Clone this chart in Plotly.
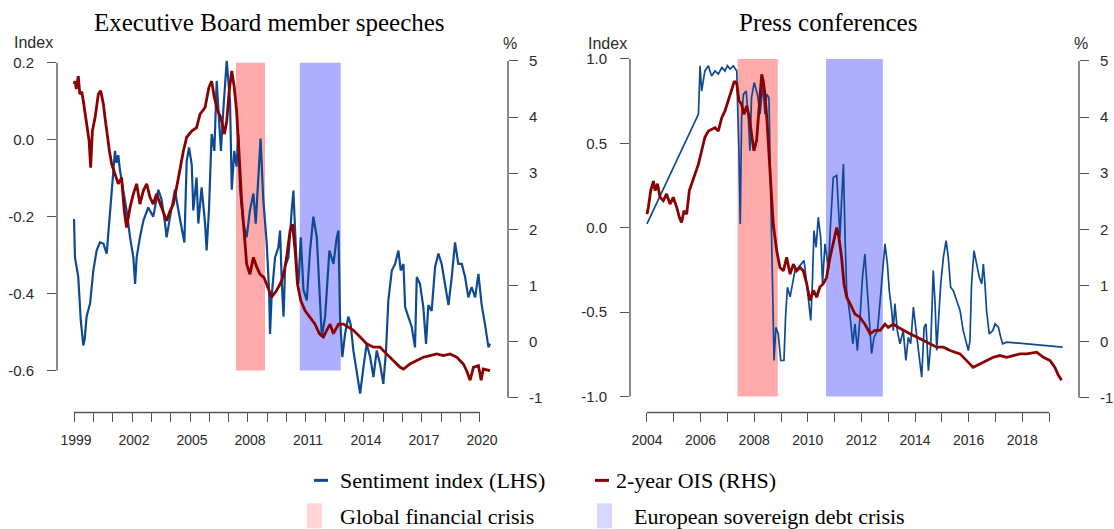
import plotly.graph_objects as go

# ---------------- data ----------------
# Left panel: Executive Board member speeches
LB_YEARS = [1999.00, 1999.05, 1999.22, 1999.35, 1999.48, 1999.55, 1999.65, 1999.83, 2000.00, 2000.17,
            2000.34, 2000.52, 2000.69, 2000.78, 2000.95, 2001.12, 2001.20, 2001.29, 2001.38, 2001.55,
            2001.72, 2001.90, 2002.07, 2002.16, 2002.24, 2002.41, 2002.59, 2002.84, 2003.10, 2003.36,
            2003.53, 2003.71, 2003.79, 2003.97, 2004.22, 2004.40, 2004.57, 2004.71, 2004.83, 2004.95,
            2005.09, 2005.17, 2005.34, 2005.43, 2005.60, 2005.78, 2005.86, 2005.98, 2006.12, 2006.26,
            2006.38, 2006.50, 2006.60, 2006.72, 2006.90, 2007.07, 2007.16, 2007.29, 2007.41, 2007.50,
            2007.59, 2007.76, 2007.93, 2008.10, 2008.28, 2008.40, 2008.53, 2008.65, 2008.79, 2008.97,
            2009.09, 2009.14, 2009.22, 2009.40, 2009.57, 2009.66, 2009.75, 2009.84, 2009.92, 2010.09,
            2010.26, 2010.35, 2010.44, 2010.52, 2010.61, 2010.73, 2010.87, 2011.04, 2011.21, 2011.38,
            2011.56, 2011.69, 2011.82, 2011.99, 2012.21, 2012.42, 2012.59, 2012.68, 2012.76, 2012.88,
            2013.02, 2013.19, 2013.31, 2013.45, 2013.63, 2013.80, 2013.97, 2014.14, 2014.32, 2014.49,
            2014.66, 2014.83, 2015.00, 2015.14, 2015.26, 2015.44, 2015.61, 2015.78, 2015.90, 2016.04,
            2016.13, 2016.30, 2016.47, 2016.64, 2016.73, 2016.90, 2017.07, 2017.21, 2017.33, 2017.50,
            2017.68, 2017.85, 2018.02, 2018.19, 2018.37, 2018.54, 2018.71, 2018.88, 2019.06, 2019.23,
            2019.40, 2019.57, 2019.75, 2019.92, 2020.09, 2020.26, 2020.44, 2020.52]
LB_SENT = [-0.206, -0.306, -0.357, -0.470, -0.535, -0.520, -0.460, -0.426, -0.340, -0.288,
           -0.267, -0.270, -0.296, -0.236, -0.132, -0.029, -0.060, -0.040, -0.080, -0.132,
           -0.184, -0.254, -0.306, -0.375, -0.306, -0.254, -0.210, -0.176, -0.200, -0.130,
           -0.155, -0.218, -0.254, -0.200, -0.130, -0.184, -0.236, -0.267, -0.055, -0.020,
           -0.065, -0.184, -0.098, -0.218, -0.124, -0.218, -0.288, -0.184, 0.015, -0.029,
           0.153, 0.040, -0.029, 0.075, 0.205, 0.100, -0.130, -0.029, -0.070, 0.015,
           -0.130, -0.218, -0.254, -0.184, -0.140, -0.218, -0.090, 0.003, -0.155, -0.270,
           -0.392, -0.505, -0.410, -0.306, -0.280, -0.236, -0.375, -0.460, -0.330, -0.306,
           -0.184, -0.132, -0.240, -0.330, -0.375, -0.254, -0.390, -0.418, -0.288, -0.200,
           -0.254, -0.375, -0.513, -0.460, -0.288, -0.323, -0.254, -0.236, -0.460, -0.565,
           -0.505, -0.460, -0.480, -0.548, -0.600, -0.660, -0.592, -0.531, -0.565, -0.617,
           -0.548, -0.583, -0.635, -0.548, -0.418, -0.340, -0.323, -0.288, -0.340, -0.323,
           -0.436, -0.460, -0.487, -0.540, -0.357, -0.375, -0.436, -0.531, -0.430, -0.445,
           -0.330, -0.296, -0.323, -0.375, -0.430, -0.357, -0.267, -0.323, -0.323, -0.357,
           -0.410, -0.383, -0.410, -0.349, -0.430, -0.480, -0.540, -0.530]

LR_YEARS = [1999.00, 1999.05, 1999.12, 1999.22, 1999.30, 1999.40, 1999.48, 1999.56, 1999.65, 1999.78,
            1999.86, 1999.95, 2000.09, 2000.18, 2000.26, 2000.38, 2000.52, 2000.60, 2000.69, 2000.83,
            2000.95, 2001.12, 2001.29, 2001.46, 2001.60, 2001.72, 2001.90, 2002.07, 2002.24, 2002.41,
            2002.59, 2002.76, 2002.93, 2003.10, 2003.27, 2003.53, 2003.79, 2003.97, 2004.14, 2004.40,
            2004.66, 2004.83, 2005.09, 2005.34, 2005.52, 2005.78, 2005.98, 2006.12, 2006.26, 2006.43,
            2006.60, 2006.78, 2006.90, 2007.03, 2007.16, 2007.29, 2007.41, 2007.53, 2007.67, 2007.81,
            2007.93, 2008.10, 2008.28, 2008.45, 2008.62, 2008.83, 2009.00, 2009.22, 2009.48, 2009.74,
            2009.90, 2010.00, 2010.18, 2010.30, 2010.44, 2010.56, 2010.73, 2010.95, 2011.21, 2011.47,
            2011.69, 2011.90, 2012.07, 2012.25, 2012.42, 2012.68, 2012.94, 2013.19, 2013.45, 2013.80,
            2014.14, 2014.49, 2014.83, 2015.17, 2015.52, 2015.87, 2016.04, 2016.38, 2016.73, 2017.07,
            2017.42, 2017.76, 2018.11, 2018.45, 2018.80, 2019.14, 2019.31, 2019.49, 2019.66, 2019.92,
            2020.06, 2020.17, 2020.52]
LR_OIS = [4.59, 4.64, 4.50, 4.73, 4.41, 4.45, 4.29, 4.10, 3.87, 3.58,
          3.10, 3.75, 3.99, 4.20, 4.41, 4.47, 4.23, 4.00, 3.75, 3.40,
          3.16, 2.98, 2.81, 2.92, 2.33, 2.03, 2.39, 2.63, 2.81, 2.45,
          2.69, 2.81, 2.57, 2.45, 2.63, 2.39, 2.15, 2.33, 2.45, 2.92,
          3.40, 3.64, 3.75, 3.81, 4.05, 4.17, 4.53, 4.64, 4.35, 4.11,
          3.99, 3.70, 3.93, 4.47, 4.82, 4.53, 4.11, 3.40, 2.51, 1.92,
          1.38, 1.20, 1.50, 1.33, 1.20, 1.14, 0.97, 0.79, 0.91, 1.08,
          1.30, 1.50, 1.98, 2.09, 1.62, 1.03, 0.73, 0.55, 0.43, 0.31,
          0.14, 0.08, 0.20, 0.31, 0.14, 0.31, 0.31, 0.25, 0.20, 0.08,
          -0.04, -0.10, -0.10, -0.22, -0.34, -0.46, -0.49, -0.40, -0.34, -0.28,
          -0.25, -0.22, -0.25, -0.22, -0.28, -0.40, -0.52, -0.69, -0.46, -0.43,
          -0.69, -0.49, -0.52]

# Right panel: Press conferences
RB_YEARS = [2004.00, 2005.92, 2005.98, 2006.04, 2006.10, 2006.16, 2006.29, 2006.41, 2006.54, 2006.66,
            2006.79, 2006.91, 2007.00, 2007.10, 2007.22, 2007.35, 2007.38, 2007.43, 2007.48, 2007.53,
            2007.60, 2007.70, 2007.78, 2007.84, 2007.90, 2008.00, 2008.12, 2008.22, 2008.32, 2008.40,
            2008.47, 2008.55, 2008.61, 2008.68, 2008.74, 2008.81, 2008.90, 2008.99, 2009.11, 2009.17,
            2009.24, 2009.34, 2009.44, 2009.52, 2009.65, 2009.77, 2009.86, 2009.96, 2010.02, 2010.11,
            2010.17, 2010.23, 2010.31, 2010.39, 2010.48, 2010.55, 2010.64, 2010.77, 2010.85, 2010.95,
            2011.08, 2011.14, 2011.20, 2011.26, 2011.33, 2011.39, 2011.45, 2011.58, 2011.68, 2011.76,
            2011.85, 2011.95, 2012.04, 2012.13, 2012.20, 2012.30, 2012.38, 2012.47, 2012.60, 2012.70,
            2012.80, 2012.88, 2012.97, 2013.04, 2013.13, 2013.19, 2013.25, 2013.34, 2013.44, 2013.56,
            2013.66, 2013.75, 2013.84, 2013.94, 2014.04, 2014.12, 2014.25, 2014.34, 2014.41, 2014.50,
            2014.59, 2014.68, 2014.75, 2014.81, 2014.87, 2014.96, 2015.06, 2015.16, 2015.24, 2015.33,
            2015.43, 2015.55, 2015.68, 2015.80, 2015.93, 2015.99, 2016.05, 2016.11, 2016.20, 2016.30,
            2016.40, 2016.49, 2016.55, 2016.61, 2016.67, 2016.77, 2016.90, 2016.99, 2017.11, 2017.20,
            2017.27, 2017.42, 2018.04, 2018.66, 2019.51]
RB_SENT = [0.022, 0.673, 0.959, 0.810, 0.870, 0.929, 0.959, 0.899, 0.929, 0.910,
           0.949, 0.929, 0.960, 0.940, 0.959, 0.929, 0.732, 0.456, 0.022, 0.653,
           0.791, 0.810, 0.653, 0.456, 0.771, 0.860, 0.791, 0.673, 0.850, 0.673,
           0.791, 0.771, 0.258, -0.333, -0.787, -0.590, -0.630, -0.787, -0.787, -0.530,
           -0.353, -0.410, -0.333, -0.254, -0.235, -0.215, -0.195, -0.333, -0.410, -0.550,
           -0.333, -0.018, -0.116, 0.061, -0.057, -0.333, -0.096, -0.235, 0.022, 0.298,
           0.310, 0.120, -0.057, 0.160, 0.377, -0.057, -0.373, -0.530, -0.688, -0.570,
           -0.728, -0.530, -0.294, -0.156, -0.333, -0.590, -0.747, -0.650, -0.610, -0.432,
           -0.235, -0.096, -0.215, -0.373, -0.490, -0.610, -0.450, -0.610, -0.688, -0.610,
           -0.787, -0.650, -0.688, -0.471, -0.610, -0.728, -0.886, -0.590, -0.570, -0.847,
           -0.688, -0.254, -0.450, -0.728, -0.570, -0.333, -0.175, -0.077, -0.175, -0.353,
           -0.373, -0.432, -0.490, -0.610, -0.688, -0.728, -0.670, -0.333, -0.136, -0.215,
           -0.294, -0.333, -0.215, -0.333, -0.490, -0.629, -0.610, -0.570, -0.590, -0.650,
           -0.688, -0.678, -0.688, -0.698, -0.708]

RR_YEARS = [2004.00, 2004.05, 2004.14, 2004.24, 2004.30, 2004.39, 2004.49, 2004.61, 2004.73, 2004.86,
            2004.98, 2005.11, 2005.21, 2005.29, 2005.38, 2005.48, 2005.58, 2005.67, 2005.79, 2005.92,
            2006.04, 2006.16, 2006.29, 2006.41, 2006.54, 2006.66, 2006.79, 2006.91, 2007.03, 2007.16,
            2007.26, 2007.35, 2007.43, 2007.53, 2007.62, 2007.72, 2007.82, 2007.90, 2007.99, 2008.09,
            2008.19, 2008.28, 2008.34, 2008.40, 2008.47, 2008.53, 2008.61, 2008.71, 2008.84, 2008.96,
            2009.09, 2009.21, 2009.34, 2009.46, 2009.58, 2009.71, 2009.83, 2009.96, 2010.08, 2010.21,
            2010.33, 2010.45, 2010.58, 2010.70, 2010.83, 2010.95, 2011.08, 2011.16, 2011.26, 2011.35,
            2011.45, 2011.58, 2011.76, 2011.95, 2012.13, 2012.32, 2012.51, 2012.70, 2012.88, 2013.00,
            2013.19, 2013.38, 2013.56, 2013.81, 2014.06, 2014.31, 2014.56, 2014.81, 2015.06, 2015.31,
            2015.68, 2015.93, 2016.17, 2016.42, 2016.67, 2016.92, 2017.17, 2017.42, 2017.67, 2017.92,
            2018.17, 2018.54, 2018.79, 2019.04, 2019.22, 2019.35, 2019.47]
RR_OIS = [2.27, 2.39, 2.69, 2.86, 2.69, 2.81, 2.57, 2.51, 2.63, 2.45,
          2.57, 2.39, 2.21, 2.12, 2.33, 2.27, 2.69, 2.81, 2.98, 3.16,
          3.40, 3.64, 3.75, 3.78, 3.81, 3.75, 3.99, 4.11, 4.29, 4.47,
          4.64, 4.59, 4.29, 4.23, 4.05, 4.20, 3.99, 3.70, 3.40, 3.58,
          4.23, 4.76, 4.64, 4.41, 3.99, 3.52, 2.81, 2.09, 1.62, 1.32,
          1.26, 1.50, 1.20, 1.38, 1.26, 1.32, 1.26, 1.03, 0.73, 0.91,
          0.79, 0.97, 1.03, 1.14, 1.50, 1.74, 2.03, 1.86, 1.50, 1.03,
          0.79, 0.67, 0.49, 0.43, 0.31, 0.14, 0.20, 0.20, 0.31, 0.25,
          0.31, 0.25, 0.20, 0.14, 0.08, 0.02, -0.04, -0.10, -0.10, -0.16,
          -0.22, -0.34, -0.46, -0.40, -0.34, -0.28, -0.25, -0.28, -0.25, -0.22,
          -0.22, -0.19, -0.28, -0.34, -0.46, -0.60, -0.69]

# Crisis periods (start, end) in decimal years
GFC_PERIOD = [2007.38, 2008.88]
ESDC_PERIOD = [2010.68, 2012.80]

# Tick labels
LEFT_YEARS = list(range(1999, 2021))
LEFT_YEAR_LABELS = [str(y) if (y - 1999) % 3 == 0 else "" for y in LEFT_YEARS]
RIGHT_YEARS = list(range(2004, 2020))
RIGHT_YEAR_LABELS = [str(y) if (y - 2004) % 2 == 0 and y <= 2018 else "" for y in RIGHT_YEARS]
L_INDEX_TICKS = [0.2, 0.0, -0.2, -0.4, -0.6]
L_INDEX_LABELS = ["0.2", "0.0", "-0.2", "-0.4", "-0.6"]
R_INDEX_TICKS = [1.0, 0.5, 0.0, -0.5, -1.0]
R_INDEX_LABELS = ["1.0", "0.5", "0.0", "-0.5", "-1.0"]
PCT_TICKS = [5, 4, 3, 2, 1, 0, -1]
PCT_LABELS = ["5", "4", "3", "2", "1", "0", "-1"]

# ---------------- style ----------------
W, H = 1114, 529
BLUE = "#0E4A94"
RED = "#8B0000"
PINK_BAND = "#FFAAAA"
BLUE_BAND = "#AEAEFF"
PINK_KEY = "#FFD5D5"
BLUE_KEY = "#D8D8FF"
AX = "#555555"
TXT = "#2a2a2a"
SANS = "Liberation Sans, Arial, sans-serif"
SERIF = "Liberation Serif, Times New Roman, serif"


def fx(p):
    return p / W


def fy(p):
    # pixel row (from top) -> paper fraction, with a small empirical vertical correction
    q = (p - 5.0) / 0.99
    return 1 - q / H


fig = go.Figure()
fig.add_trace(go.Scatter(x=LB_YEARS, y=LB_SENT, mode="lines", line=dict(color=BLUE, width=2.2),
                         xaxis="x", yaxis="y", showlegend=False))
fig.add_trace(go.Scatter(x=LR_YEARS, y=LR_OIS, mode="lines", line=dict(color=RED, width=2.8),
                         xaxis="x", yaxis="y2", showlegend=False))
fig.add_trace(go.Scatter(x=RB_YEARS, y=RB_SENT, mode="lines", line=dict(color=BLUE, width=1.7),
                         xaxis="x2", yaxis="y3", showlegend=False))
fig.add_trace(go.Scatter(x=RR_YEARS, y=RR_OIS, mode="lines", line=dict(color=RED, width=2.8),
                         xaxis="x2", yaxis="y4", showlegend=False))

ydom = [fy(405), fy(55)]
tickfont = dict(family=SANS, size=15, color=TXT)
common_y = dict(showgrid=False, zeroline=False, showline=False, ticks="outside", ticklen=9,
                tickwidth=1.4, tickcolor=AX, tickfont=tickfont, domain=ydom)
common_x = dict(showgrid=False, zeroline=False, showline=False, ticks="outside", ticklen=9,
                tickwidth=1.4, tickcolor=AX, tickfont=dict(family=SANS, size=14, color=TXT),
                anchor="free", position=fy(412), ticklabelstandoff=6)

fig.update_layout(
    width=W, height=H, margin=dict(l=0, r=0, t=0, b=0),
    paper_bgcolor="white", plot_bgcolor="white", showlegend=False,
    xaxis=dict(domain=[fx(57), fx(508)], range=[1998.12, 2021.45], ticklabelshift=2,
               tickmode="array", tickvals=LEFT_YEARS, ticktext=LEFT_YEAR_LABELS, **common_x),
    yaxis=dict(anchor="x", side="left", range=[-0.691, 0.218], tickmode="array",
               tickvals=L_INDEX_TICKS, ticktext=L_INDEX_LABELS, ticklabelstandoff=10, **common_y),
    yaxis2=dict(anchor="x", overlaying="y", side="right", range=[-1.139, 5.089], tickmode="array",
                tickvals=PCT_TICKS, ticktext=PCT_LABELS, ticklabelstandoff=8, **common_y),
    xaxis2=dict(domain=[fx(630), fx(1079)], range=[2003.366, 2020.119],
                tickmode="array", tickvals=RIGHT_YEARS, ticktext=RIGHT_YEAR_LABELS, **common_x),
    yaxis3=dict(anchor="x2", side="left", range=[-1.0533, 1.0178], tickmode="array",
                tickvals=R_INDEX_TICKS, ticktext=R_INDEX_LABELS, ticklabelstandoff=10, **common_y),
    yaxis4=dict(anchor="x2", overlaying="y3", side="right", range=[-1.139, 5.089], tickmode="array",
                tickvals=PCT_TICKS, ticktext=PCT_LABELS, ticklabelstandoff=8, **common_y),
)

shapes = []
# crisis bands
for xr, yr_, band in [("x", "y", (-0.6, 0.2)), ("x2", "y3", (-1.0, 1.0))]:
    shapes.append(dict(type="rect", xref=xr, yref=yr_, x0=GFC_PERIOD[0], x1=GFC_PERIOD[1],
                       y0=band[0], y1=band[1], fillcolor=PINK_BAND, line=dict(width=0), layer="below"))
    shapes.append(dict(type="rect", xref=xr, yref=yr_, x0=ESDC_PERIOD[0], x1=ESDC_PERIOD[1],
                       y0=band[0], y1=band[1], fillcolor=BLUE_BAND, line=dict(width=0), layer="below"))

# R-style axis lines spanning the tick range only
axl = dict(color=AX, width=1.4)
shapes += [
    dict(type="line", xref="x domain", yref="y", x0=0, x1=0, y0=-0.6, y1=0.2, line=axl),
    dict(type="line", xref="x domain", yref="y2", x0=1, x1=1, y0=-1, y1=5, line=axl),
    dict(type="line", xref="x", yref="paper", x0=LEFT_YEARS[0], x1=LEFT_YEARS[-1], y0=fy(412), y1=fy(412), line=axl),
    dict(type="line", xref="x2 domain", yref="y3", x0=0, x1=0, y0=-1, y1=1, line=axl),
    dict(type="line", xref="x2 domain", yref="y4", x0=1, x1=1, y0=-1, y1=5, line=axl),
    dict(type="line", xref="x2", yref="paper", x0=RIGHT_YEARS[0], x1=RIGHT_YEARS[-1], y0=fy(412), y1=fy(412), line=axl),
]

# legend keys
shapes += [
    dict(type="line", xref="paper", yref="paper", x0=fx(314), x1=fx(328), y0=fy(480), y1=fy(480),
         line=dict(color=BLUE, width=3)),
    dict(type="line", xref="paper", yref="paper", x0=fx(595), x1=fx(609), y0=fy(480), y1=fy(480),
         line=dict(color=RED, width=3)),
    dict(type="rect", xref="paper", yref="paper", x0=fx(307), x1=fx(322), y0=fy(528), y1=fy(503),
         fillcolor=PINK_KEY, line=dict(width=0)),
    dict(type="rect", xref="paper", yref="paper", x0=fx(597), x1=fx(612), y0=fy(528), y1=fy(503),
         fillcolor=BLUE_KEY, line=dict(width=0)),
]
fig.update_layout(shapes=shapes)

ann = []


def text(x, y, s, size, family, xanchor="center", color="black"):
    ann.append(dict(x=fx(x), y=fy(y), xref="paper", yref="paper", text=s, showarrow=False,
                    xanchor=xanchor, yanchor="middle", font=dict(family=family, size=size, color=color)))


text(269, 22, "Executive Board member speeches", 25, SERIF)
text(828, 22, "Press conferences", 25, SERIF)
text(12, 42, "Index", 16, SANS, "left", TXT)
text(586, 43, "Index", 16, SANS, "left", TXT)
text(510, 43, "%", 16, SANS, "center", TXT)
text(1081, 43, "%", 16, SANS, "center", TXT)
text(338, 480, "Sentiment index (LHS)", 22, SERIF, "left")
text(614, 480, "2-year OIS (RHS)", 22, SERIF, "left")
text(338, 516, "Global financial crisis", 22, SERIF, "left")
text(632, 516, "European sovereign debt crisis", 22, SERIF, "left")
fig.update_layout(annotations=ann)

fig.write_html("out.html", config={"displayModeBar": False},
               post_script="document.body.style.margin='0';document.body.style.overflow='hidden';")
